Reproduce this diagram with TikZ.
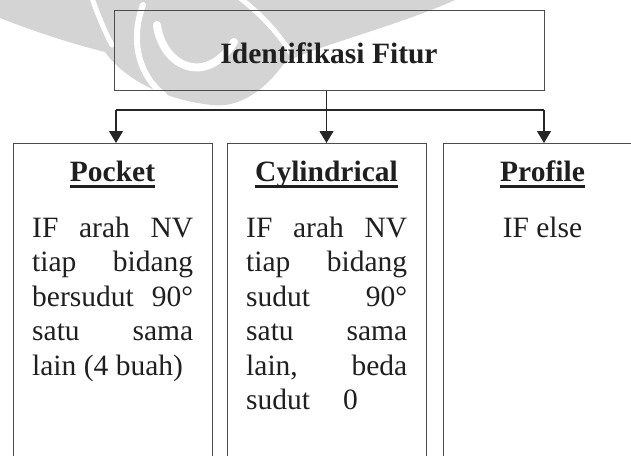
\documentclass[tikz,border=0pt]{standalone}
\usepackage{fontspec}
\setmainfont{Liberation Serif}
\usetikzlibrary{arrows.meta}
\newcommand\ulhead[1]{\setbox0\hbox{\bfseries #1}\rlap{\rule[-6.5pt]{\wd0}{2.8pt}}\box0}
\begin{document}
\begin{tikzpicture}[x=1pt,y=-1pt,
  box/.style={draw=black!70, line width=1pt, inner sep=0pt},
  fbox/.style={box, minimum width=199pt, minimum height=330pt, anchor=north},
  txt/.style={inner sep=0pt, font=\fontsize{29.5}{34.4}\selectfont, text=black!88},
  arr/.style={draw=black!85, line width=1.2pt, -{Triangle[width=14pt,length=12pt]}},
  link/.style={draw=black!85, line width=1.2pt},
  wm/.style={fill=black!17},
  wmgap/.style={draw=white, line cap=round}]
\useasboundingbox (0,0) rectangle (631,455);
\clip (0,0) rectangle (631,455);
% faint watermark
\fill[wm] (0,0) -- (455,0) .. controls (400,25) and (320,45) .. (285,62)
  .. controls (262,95) and (235,108) .. (212,105)
  .. controls (165,100) and (125,80) .. (105,52)
  .. controls (65,42) and (25,28) .. (0,18) -- cycle;
\draw[wmgap, line width=5pt] (92,-2) .. controls (98,15) and (104,30) .. (112,45);
\draw[wmgap, line width=6pt] (143,5) .. controls (130,40) and (138,75) .. (165,96);
\draw[wmgap, line width=8pt] (157,25) .. controls (162,65) and (205,88) .. (234,42);
\draw[wmgap, line width=5pt] (240,-2) .. controls (262,15) and (280,35) .. (292,55);
% main boxes
\node[box, minimum width=430pt, minimum height=80pt] (top) at (329,50) {};
\node[txt, anchor=base] (title) at (329,63) {\bfseries Identifikasi Fitur};
\node[fbox] (pocket) at (112.5,143) {};
\node[fbox] (cyl) at (326.5,143) {};
\node[fbox] (prof) at (542.5,143) {};
% headings
\node[txt, anchor=base] (hp) at (112.5,181.5) {\ulhead{Pocket}};
\node[txt, anchor=base] (hc) at (326.5,181.5) {\ulhead{Cylindrical}};
\node[txt, anchor=base] (hf) at (542.5,181.5) {\ulhead{Profile}};
% bodies
\node[txt, anchor=base west] (bp) at (32,237.5) {\parbox[t]{161pt}{%
  \makebox[161pt][s]{IF arah NV}\\
  \makebox[161pt][s]{tiap bidang}\\
  \makebox[161pt][s]{bersudut 90°}\\
  \makebox[161pt][s]{satu sama}\\
  lain (4 buah)}};
\node[txt, anchor=base west] (bc) at (246,237.5) {\parbox[t]{161pt}{%
  \makebox[161pt][s]{IF arah NV}\\
  \makebox[161pt][s]{tiap bidang}\\
  \makebox[161pt][s]{sudut 90°}\\
  \makebox[161pt][s]{satu sama}\\
  \makebox[161pt][s]{lain, beda}\\
  sudut\hspace{33pt}0}};
\node[txt, anchor=base] (bf) at (542.5,237.5) {IF else};
% connectors
\coordinate (jl) at (116,110);
\coordinate (jr) at (544,110);
\draw[link] (jl) -- (jr);
\draw[arr] (top.south -| cyl.north) -- (cyl.north);
\draw[arr] (jl) -- (jl |- pocket.north);
\draw[arr] (jr) -- (jr |- prof.north);
\end{tikzpicture}
\end{document}
